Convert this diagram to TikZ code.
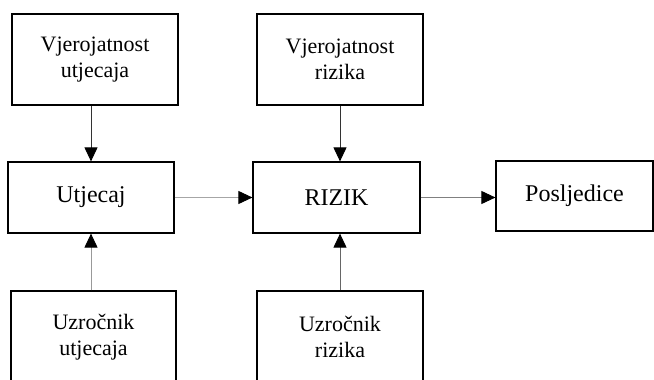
\documentclass[tikz,border=0pt]{standalone}
\usepackage{fontspec}
\setmainfont{Liberation Serif}
\usetikzlibrary{arrows.meta}

\begin{document}
\begin{tikzpicture}[x=1pt, y=-1pt,
  box/.style={draw=black, line width=1.2pt, align=center, inner sep=2pt},
  twoline/.style={box, font=\fontsize{22}{26.5}\selectfont},
  oneline/.style={box, font=\fontsize{24}{28}\selectfont},
  link/.style={line width=0.9pt, -{Triangle[length=14pt, width=13pt, black]}}]
  \clip (0,0) rectangle (654,380);
  % upper row
  \node[twoline, minimum width=166pt, minimum height=91pt] (vu) at (95,59.5) {Vjerojatnost\\utjecaja};
  \node[twoline, minimum width=166pt, minimum height=91pt] (vr) at (340,59.5) {Vjerojatnost\\rizika};
  % middle row
  \node[oneline, minimum width=166pt, minimum height=71pt] (ut) at (91,197.5) {Utjecaj};
  \node[oneline, minimum width=167pt, minimum height=71pt] (rz) at (336.5,197.5) {RIZIK};
  \node[oneline, minimum width=157pt, minimum height=70pt] (po) at (574.5,196) {Posljedice};
  % lower row, cut off by the page
  \node[twoline, minimum width=165pt, minimum height=92pt] (uu) at (93.5,337) {Uzročnik\\utjecaja};
  \node[twoline, minimum width=166pt, minimum height=92pt] (ur) at (340,337) {Uzročnik\\rizika};
  % connectors
  \draw[link, black!80] (vu.south -| ut.north) -- (ut.north);
  \draw[link, black!40] (uu.north -| ut.south) -- (ut.south);
  \draw[link, black!35] (ut.east) -- (ut.east -| rz.west);
  \draw[link, black!80] (vr.south) -- (vr.south |- rz.north);
  \draw[link, black!60] (ur.north) -- (ur.north |- rz.south);
  \draw[link, black!50] (rz.east) -- (rz.east -| po.west);
\end{tikzpicture}
\end{document}
